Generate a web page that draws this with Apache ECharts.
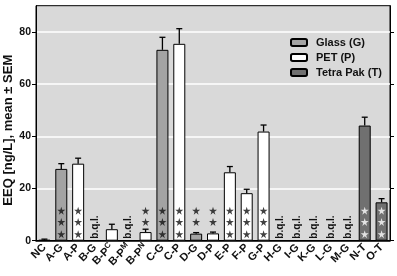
<!DOCTYPE html>
<html>
<head>
<meta charset="utf-8">
<script src="https://cdn.jsdelivr.net/npm/echarts@6/dist/echarts.min.js"></script>
<style>
  html, body { margin: 0; padding: 0; background: #fff; }
  #chart { width: 397px; height: 276px; }
</style>
</head>
<body>
<div id="chart"></div>
<script>
// categories, "_" marks a subscript
const categories = ['NC', 'A-G', 'A-P', 'B-G', 'B-P_C', 'B-P_M', 'B-P_N', 'C-G', 'C-P', 'D-G', 'D-P',
  'E-P', 'F-P', 'G-P', 'H-G', 'I-G', 'K-G', 'L-G', 'M-G', 'N-T', 'O-T'];

// mean EEQ per packaging type ('-' = no bar)
const glassValues = ['-', 27.5, '-', '-', '-', '-', '-', 73.1, '-', 2.7, '-', '-', '-', '-', '-', '-', '-', '-', '-', '-', '-'];
const petValues   = [0.3, '-', 29.5, '-', 4.4, '-', 3.3, '-', 75.4, '-', 2.8, 26.2, 18.2, 41.8, '-', '-', '-', '-', '-', '-', '-'];
const tetraValues = ['-', '-', '-', '-', '-', '-', '-', '-', '-', '-', '-', '-', '-', '-', '-', '-', '-', '-', '-', 44.1, 14.7];

// SEM (upper error bar only)
const semValues = [0.3, 2.0, 2.1, 0, 1.9, 0, 1.1, 4.8, 5.8, 0.4, 0.5, 2.2, 1.5, 2.5, 0, 0, 0, 0, 0, 3.2, 1.4];

// number of significance stars per category
const starCounts = [0, 3, 3, 0, 0, 0, 2, 3, 3, 2, 2, 3, 3, 3, 0, 0, 0, 0, 0, 3, 3];
const starLevels = [2.5, 7.2, 11.5];
const whiteStarCats = ['N-T', 'O-T'];

// below quantification limit
const bqlCats = ['B-G', 'B-P_M', 'H-G', 'I-G', 'K-G', 'L-G', 'M-G'];

const yTicks = [0, 20, 40, 60, 80];

const BLACK = '#000';
const FONT = 'Liberation Sans, Arial, sans-serif';

const means = categories.map((c, i) => {
  const v = [glassValues[i], petValues[i], tetraValues[i]].find(x => x !== '-');
  return v === undefined ? null : v;
});
const errData = categories.map((c, i) => means[i] === null ? [i, 0, 0] : [i, means[i], means[i] + semValues[i]]);

const blackStars = [], whiteStars = [];
starCounts.forEach((n, i) => {
  const levels = starLevels.slice(3 - n);
  levels.forEach(l => {
    (whiteStarCats.includes(categories[i]) ? whiteStars : blackStars).push([i, l]);
  });
});
const bqlData = bqlCats.map(c => [categories.indexOf(c), 0]);

const starPath = 'path://M50,0 L61,35 L98,35 L68,57 L79,91 L50,70 L21,91 L32,57 L2,35 L39,35 Z';

function catLabel(v) {
  const parts = v.split('_');
  return parts.length > 1 ? '{n|' + parts[0] + '}{s|' + parts[1] + '}' : '{n|' + v + '}';
}

const chart = echarts.init(document.getElementById('chart'), null, { renderer: 'canvas' });

const barBase = {
  type: 'bar',
  barWidth: 12,
  barGap: '-100%',
  xAxisIndex: 0,
  yAxisIndex: 0
};

chart.setOption({
  animation: false,
  textStyle: { fontFamily: FONT },
  grid: {
    left: 36, right: 7, top: 5.7, bottom: 35.3,
    containLabel: false, outerBoundsMode: 'none',
    show: true, backgroundColor: '#d9d9d9', borderColor: BLACK, borderWidth: 1
  },
  legend: {
    orient: 'vertical',
    left: 285, top: 32,
    itemWidth: 16, itemHeight: 7, itemGap: 4,
    textStyle: { fontFamily: FONT, fontWeight: 'bold', fontSize: 11, color: '#111', padding: [0, 0, 0, 4] },
    data: ['Glass (G)', 'PET (P)', 'Tetra Pak (T)']
  },
  xAxis: [
    {
      type: 'category', data: categories, position: 'bottom',
      axisLine: { lineStyle: { color: BLACK, width: 1.5 } },
      axisTick: { alignWithLabel: true, length: 4, lineStyle: { color: BLACK } },
      axisLabel: {
        interval: 0, rotate: 45, margin: 5, color: '#111',
        formatter: catLabel,
        rich: {
          n: { fontFamily: FONT, fontWeight: 'bold', fontSize: 11, color: '#111' },
          s: { fontFamily: FONT, fontWeight: 'bold', fontSize: 8, color: '#111', padding: [0, 0, 6, 0] }
        }
      }
    },
    {
      type: 'category', data: categories, position: 'top',
      axisLine: { lineStyle: { color: BLACK } },
      axisTick: { alignWithLabel: true, length: 4, lineStyle: { color: BLACK } },
      axisLabel: { show: false }
    }
  ],
  yAxis: [
    {
      type: 'value', min: 0, max: 90, interval: 10,
      name: 'EEQ [ng/L], mean \u00b1 SEM',
      nameLocation: 'middle', nameGap: 21, nameMoveOverlap: false,
      nameTextStyle: { fontFamily: FONT, fontWeight: 'bold', fontSize: 13, color: '#111', padding: [0, 14, 0, 0] },
      axisLine: { show: true, lineStyle: { color: BLACK } },
      axisTick: { show: true, length: 4, customValues: yTicks, lineStyle: { color: BLACK } },
      axisLabel: { customValues: yTicks, margin: 5, fontFamily: FONT, fontWeight: 'bold', fontSize: 10.5, color: '#111' },
      splitLine: { show: true, customValues: yTicks, lineStyle: { color: '#fff', width: 1.5 } }
    },
    {
      type: 'value', min: 0, max: 90, interval: 10, position: 'right',
      axisLine: { show: true, lineStyle: { color: BLACK } },
      axisTick: { show: true, length: 4, customValues: yTicks, lineStyle: { color: BLACK } },
      axisLabel: { show: false },
      splitLine: { show: false }
    }
  ],
  series: [
    Object.assign({}, barBase, {
      name: 'Glass (G)', data: glassValues,
      itemStyle: { color: '#a3a3a3', borderColor: BLACK, borderWidth: 1 }
    }),
    Object.assign({}, barBase, {
      name: 'PET (P)', data: petValues,
      itemStyle: { color: '#fff', borderColor: BLACK, borderWidth: 1 }
    }),
    Object.assign({}, barBase, {
      name: 'Tetra Pak (T)', data: tetraValues,
      itemStyle: { color: '#707070', borderColor: BLACK, borderWidth: 1 }
    }),
    {
      // error bars
      type: 'custom',
      data: errData,
      z: 3,
      renderItem: function (params, api) {
        if (api.value(2) <= api.value(1)) return;
        const low = api.coord([api.value(0), api.value(1)]);
        const high = api.coord([api.value(0), api.value(2)]);
        const half = 3;
        return {
          type: 'group',
          children: [
            { type: 'line', shape: { x1: low[0], y1: low[1], x2: high[0], y2: high[1] }, style: { stroke: BLACK, lineWidth: 1.3 } },
            { type: 'line', shape: { x1: high[0] - half, y1: high[1], x2: high[0] + half, y2: high[1] }, style: { stroke: BLACK, lineWidth: 1.3 } }
          ]
        };
      }
    },
    {
      type: 'scatter', data: blackStars, symbol: starPath, symbolSize: 8,
      itemStyle: { color: '#111' }, z: 4, silent: true
    },
    {
      type: 'scatter', data: whiteStars, symbol: starPath, symbolSize: 8,
      itemStyle: { color: '#fff' }, z: 4, silent: true
    },
    {
      // b.q.l. labels
      type: 'custom',
      data: bqlData,
      z: 4,
      renderItem: function (params, api) {
        const p = api.coord([api.value(0), api.value(1)]);
        return {
          type: 'text',
          x: p[0], y: p[1] - 2,
          rotation: Math.PI / 2,
          style: {
            text: 'b.q.l.', x: 0, y: 0,
            align: 'left', verticalAlign: 'middle',
            font: 'bold 10px ' + FONT, fill: '#111'
          }
        };
      }
    }
  ]
});
</script>
</body>
</html>
